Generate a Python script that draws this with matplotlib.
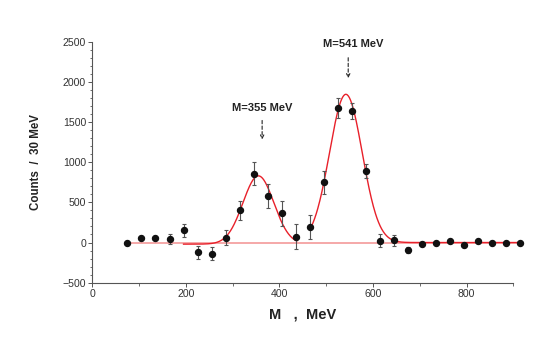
import numpy as np
import matplotlib
matplotlib.use("Agg")
import matplotlib.pyplot as plt

plt.rcParams['font.family'] = ['Liberation Sans', 'DejaVu Sans']

mass = [75, 105, 135, 165, 195, 225, 255, 285, 315, 345, 375, 405, 435, 465, 495,
        525, 555, 585, 615, 645, 675, 705, 735, 765, 795, 825, 855, 885, 915]
counts = [0, 56, 60, 40, 152, -122, -137, 60, 400, 857, 575, 363, 72, 195, 750,
          1675, 1634, 890, 22, 27, -90, -15, -10, 22, -27, 19, -6, -2, -2]
errors = [0, 15, 20, 60, 80, 85, 85, 95, 120, 140, 150, 155, 155, 150, 140,
          125, 100, 90, 80, 65, 35, 15, 12, 12, 10, 10, 10, 10, 10]

# fit parameters (amplitude, mean, sigma, offset) and ranges
fit1 = (850, 355, 33, -20)
fit1_range = (195, 437)
fit2 = (1845, 542, 35, 0)
fit2_range = (465, 916)

peak_labels = ["M=355 MeV", "M=541 MeV"]
peak_arrow_x = [363, 547]
peak_arrow_top = [1554, 2335]
peak_arrow_bot = [1248, 2011]
peak_text_x = [364, 557]
peak_text_y = [1671, 2472]

fig = plt.figure(figsize=(5.45, 3.61), dpi=100)
ax = fig.add_axes([0.1694, 0.2169, 0.7725, 0.6676])

# zero line
ax.plot([mass[0], mass[-1]], [0, 0], color='#f5a8a8', lw=1.4, zorder=1, clip_on=False)

def gauss(x, a, m, s, c):
    return a * np.exp(-(x - m) ** 2 / (2 * s * s)) + c

x1 = np.linspace(*fit1_range, 300)
ax.plot(x1, gauss(x1, *fit1), color='#e8202a', lw=1.0, zorder=2)
x2 = np.linspace(*fit2_range, 400)
ax.plot(x2, gauss(x2, *fit2), color='#e8202a', lw=1.0, zorder=2, clip_on=False)

ax.errorbar(mass, counts, yerr=errors, fmt='o', color='#111111', ms=4.3,
            ecolor='#555555', elinewidth=0.8, capsize=1.6, capthick=0.8,
            zorder=3, clip_on=False)

for lab, ax_x, yt, yb, tx, ty in zip(peak_labels, peak_arrow_x, peak_arrow_top,
                                      peak_arrow_bot, peak_text_x, peak_text_y):
    ax.annotate('', xy=(ax_x, yb), xytext=(ax_x, yt),
                arrowprops=dict(arrowstyle='->', linestyle=(0, (3, 2)),
                                color='#222222', lw=0.8, mutation_scale=6))
    ax.text(tx, ty, lab, ha='center', va='center',
            fontsize=8, fontweight='bold', color='#222222')

ax.set_xlim(0, 900)
ax.set_ylim(-500, 2500)
ax.set_xticks([0, 200, 400, 600, 800])
ax.set_xticks(np.arange(0, 901, 100), minor=True)
ax.set_yticks(np.arange(-500, 2501, 500))
ax.set_yticks(np.arange(-500, 2501, 100), minor=True)

for s in ['top', 'right']:
    ax.spines[s].set_visible(False)
for s in ['left', 'bottom']:
    ax.spines[s].set_color('#555555')
    ax.spines[s].set_linewidth(0.8)

ax.tick_params(which='major', direction='out', length=3, width=0.7,
               color='#555555', labelsize=7.6, labelcolor='#333333', pad=1.5)
ax.tick_params(which='minor', direction='out', length=1.8, width=0.6, color='#555555')

ax.set_xlabel('M   ,  MeV', fontsize=10.5, fontweight='bold', color='#222222', labelpad=6)
ax.set_ylabel('Counts  /  30 MeV', fontsize=8.3, fontweight='bold', color='#222222', labelpad=15)

fig.savefig('out.png', dpi=100)
